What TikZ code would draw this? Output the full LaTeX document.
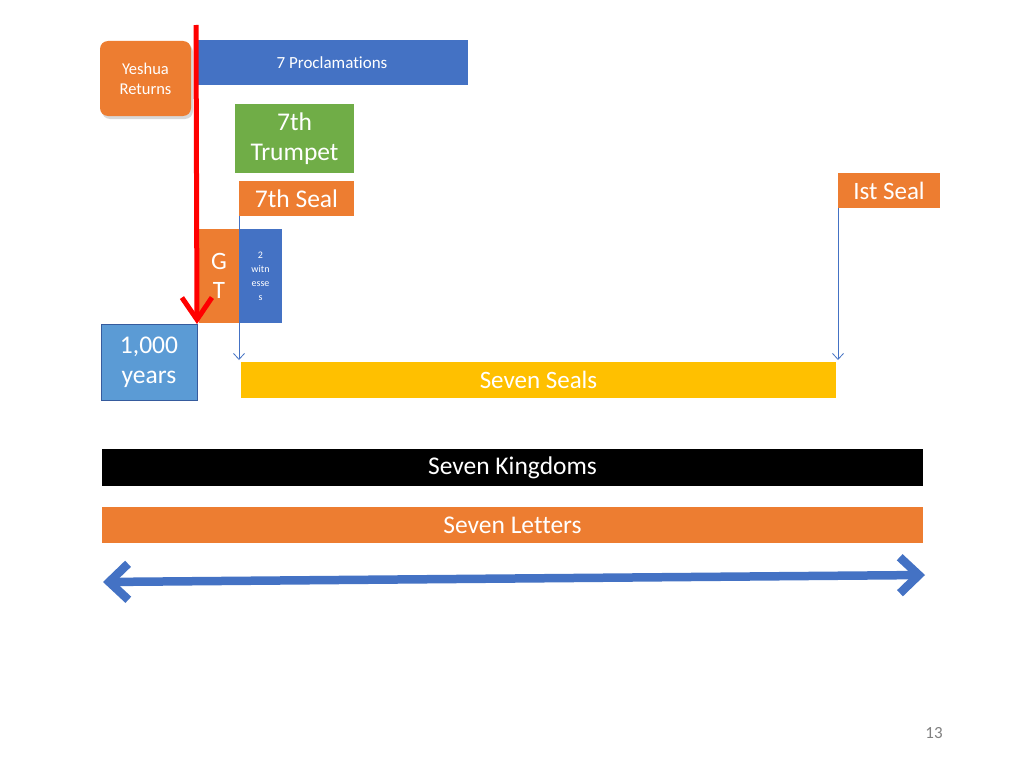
\documentclass[tikz,border=0pt]{standalone}
\usepackage{fontspec}
\setmainfont[Ligatures=NoCommon]{Carlito}
\usetikzlibrary{arrows.meta,shadows}
\definecolor{orng}{HTML}{ED7D31}
\definecolor{blu}{HTML}{4472C4}
\definecolor{grn}{HTML}{70AD47}
\definecolor{lblu}{HTML}{5B9BD5}
\definecolor{yel}{HTML}{FFC000}
\tikzset{
  box/.style={draw=none,inner sep=0pt,outer sep=0pt,text=white,align=center,anchor=north west},
  thinarr/.style={draw=blu,line width=0.8pt,-{Straight Barb[length=6pt,width=11pt]}},
}
\begin{document}
\begin{tikzpicture}[x=1pt,y=-1pt]
\useasboundingbox (0,0) rectangle (1024,768);
\fill[white] (0,0) rectangle (1024,768);
% boxes
\node[box,fill=orng,rounded corners=8pt,minimum width=91pt,minimum height=75pt,drop shadow={shadow xshift=2pt,shadow yshift=-3pt,opacity=0.3},font=\fontsize{16.5}{20}\selectfont] (yr) at (100,41) {Yeshua\\Returns};
\node[box,fill=blu,minimum width=272pt,minimum height=45pt,font=\fontsize{17}{20}\selectfont] (pr) at (196,40) {7 Proclamations};
\node[box,fill=grn,minimum width=119pt,minimum height=69pt,font=\fontsize{25.5}{30}\selectfont] (tr) at (235,104) {7th\\Trumpet};
\node[box,fill=orng,minimum width=115pt,minimum height=35pt,font=\fontsize{25.5}{30}\selectfont] (s7) at (239,181) {7th Seal};
\node[box,fill=orng,minimum width=102pt,minimum height=35pt,font=\fontsize{25}{30}\selectfont] (s1) at (838,173) {Ist Seal};
\node[box,fill=orng,minimum width=40pt,minimum height=94pt,font=\fontsize{25}{29}\selectfont] (gt) at (199,229) {G\\T};
\node[box,fill=blu,minimum width=43pt,minimum height=94pt,font=\fontsize{10}{14}\selectfont] (tw) at (239,229) {2\\witn\\esse\\s};
\node[box,fill=lblu,draw=blu!80!black,line width=0.8pt,minimum width=96pt,minimum height=76pt,font=\fontsize{25.5}{30}\selectfont] (ky) at (101,324) {1,000\\years};
\node[box,fill=yel,minimum width=595pt,minimum height=36pt,font=\fontsize{25}{30}\selectfont] (ss) at (241,362) {Seven Seals};
\node[box,fill=black,minimum width=821pt,minimum height=37pt,font=\fontsize{25.5}{30}\selectfont] (sk) at (102,449) {Seven Kingdoms};
\node[box,fill=orng,minimum width=821pt,minimum height=36pt,font=\fontsize{25.5}{30}\selectfont] (sl) at (102,507) {Seven Letters};
% connectors
\coordinate (s7end) at (239,360);
\coordinate (s1end) at (838,360);
\draw[thinarr] (s7.south west) -- (s7end);
\draw[thinarr] (s1.south west) -- (s1end);
\coordinate (la) at (103,582);
\coordinate (ra) at (925,575);
\draw[blu,line width=8.5pt,line cap=round,{Straight Barb[length=19pt,width=36pt,line width=8.5pt]}-{Straight Barb[length=19pt,width=36pt,line width=8.5pt]}] (la) -- (ra);
\coordinate (rtop) at (196,25);
\coordinate (rbot) at (197,324);
\draw[red,line width=5pt,-{Straight Barb[length=22pt,width=30pt,line width=5pt]}] (rtop) -- (rbot);
\node[text=gray,font=\fontsize{17}{20}\selectfont] (pg) at (934,733) {13};
\end{tikzpicture}
\end{document}
